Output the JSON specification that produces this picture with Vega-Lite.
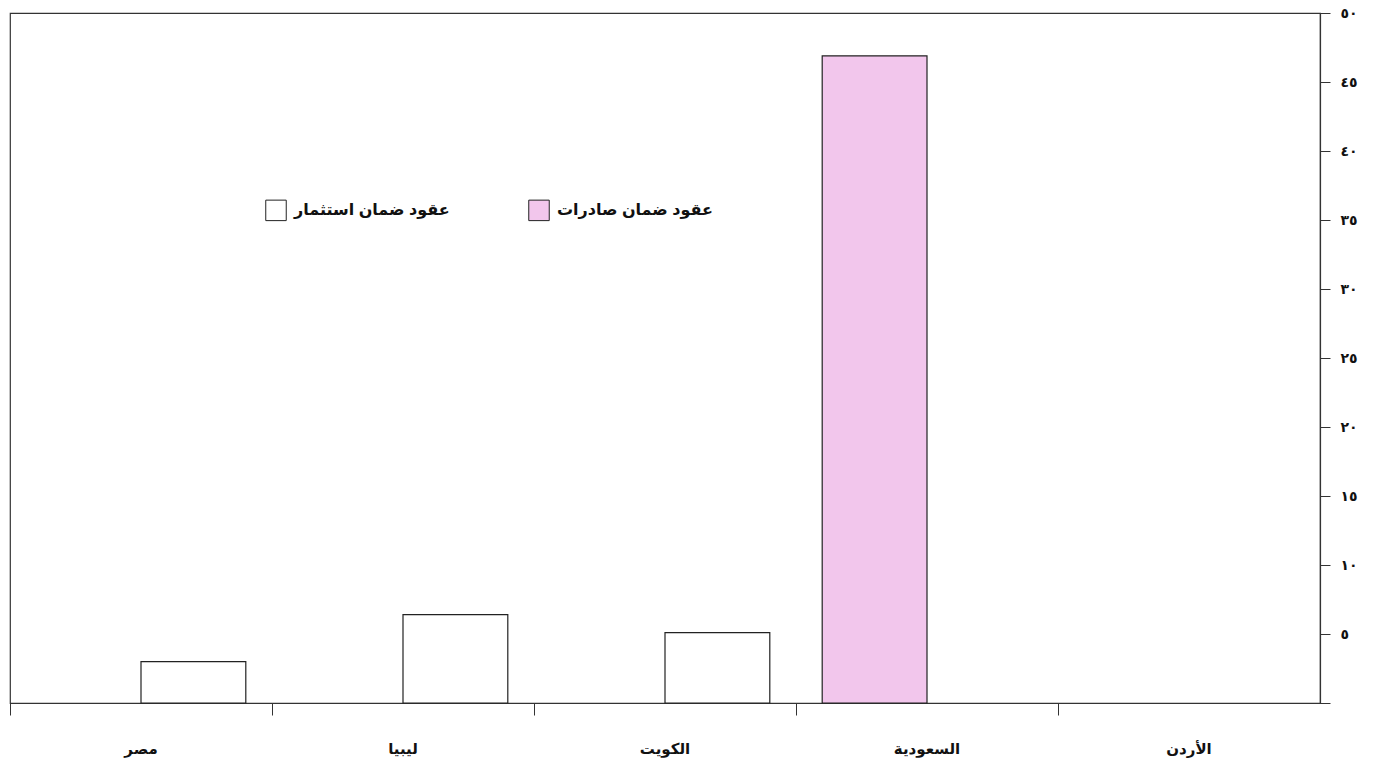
{
  "$schema": "https://vega.github.io/schema/vega-lite/v6.json",
  "width": 1310,
  "height": 690,
  "autosize": {"type": "none"},
  "padding": {"left": 10, "top": 13, "right": 54, "bottom": 70},
  "background": "white",
  "config": {
    "view": {"stroke": "#333", "strokeWidth": 1.2},
    "font": "Liberation Sans, DejaVu Sans, sans-serif"
  },
  "data": {
    "values": [
      {"country": "مصر", "type": "عقود ضمان استثمار", "value": 3.0},
      {"country": "ليبيا", "type": "عقود ضمان استثمار", "value": 6.4},
      {"country": "الكويت", "type": "عقود ضمان استثمار", "value": 5.1},
      {"country": "السعودية", "type": "عقود ضمان صادرات", "value": 46.9}
    ]
  },
  "mark": {"type": "bar", "stroke": "#222", "strokeWidth": 1.2},
  "encoding": {
    "x": {
      "field": "country",
      "type": "nominal",
      "scale": {"domain": ["مصر", "ليبيا", "الكويت", "السعودية", "الأردن"], "paddingInner": 0, "paddingOuter": 0},
      "axis": {
        "title": null,
        "labelAngle": 0,
        "bandPosition": 0,
        "tickSize": 12,
        "tickColor": "#333",
        "domainColor": "#333",
        "domainWidth": 1.2,
        "labelPadding": 26,
        "labelFontSize": 15,
        "labelFontWeight": "bold",
        "labelColor": "#111"
      }
    },
    "xOffset": {
      "field": "type",
      "type": "nominal",
      "scale": {"domain": ["عقود ضمان صادرات", "عقود ضمان استثمار"], "paddingInner": 0, "paddingOuter": 0.25}
    },
    "y": {
      "field": "value",
      "type": "quantitative",
      "scale": {"domain": [0, 50], "nice": false},
      "axis": {
        "orient": "right",
        "title": null,
        "values": [0, 5, 10, 15, 20, 25, 30, 35, 40, 45, 50],
        "grid": false,
        "tickSize": 10,
        "tickColor": "#333",
        "domainColor": "#333",
        "domainWidth": 1.2,
        "labelPadding": 10,
        "labelFontSize": 14,
        "labelFontWeight": "bold",
        "labelColor": "#111",
        "labelExpr": "datum.value == 0 ? '' : replace(replace(replace(replace(replace(replace(datum.label,'0','٠'),'1','١'),'2','٢'),'3','٣'),'4','٤'),'5','٥')"
      }
    },
    "fill": {
      "field": "type",
      "type": "nominal",
      "scale": {"domain": ["عقود ضمان استثمار", "عقود ضمان صادرات"], "range": ["#ffffff", "#F2C6EC"]},
      "legend": {
        "title": null,
        "orient": "none",
        "legendX": 255,
        "legendY": 186,
        "direction": "horizontal",
        "symbolType": "square",
        "symbolSize": 420,
        "symbolStrokeColor": "#222",
        "symbolStrokeWidth": 1,
        "labelFontSize": 16,
        "labelFontWeight": "bold",
        "labelColor": "#111",
        "labelOffset": 7,
        "columnPadding": 76,
        "labelLimit": 300
      }
    }
  }
}
